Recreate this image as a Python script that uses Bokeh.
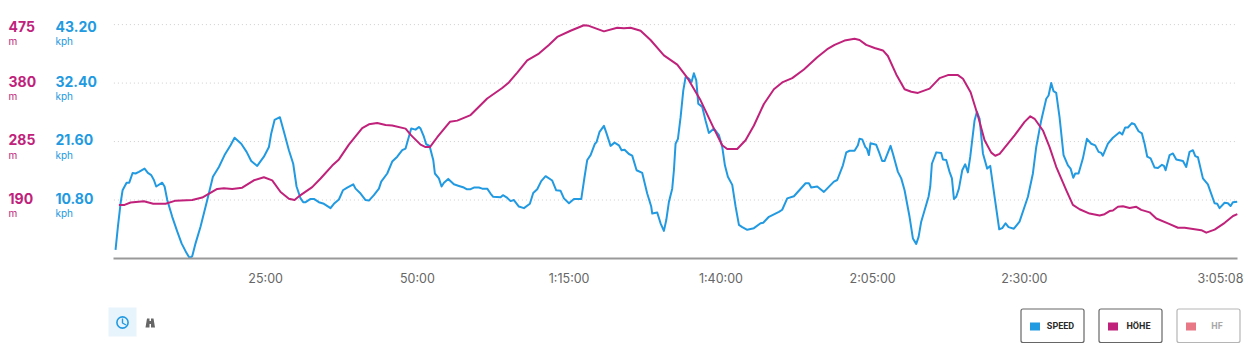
from bokeh.plotting import figure
from bokeh.models import Range1d, FixedTicker
from bokeh.layouts import column
from bokeh.core.properties import value
from bokeh.embed import file_html
from bokeh.resources import INLINE

BLUE = "#229ae1"
MAG = "#c0217a"
PINK = "#e97886"

speed_min = [0.27,0.66,1.1,1.43,2.09,2.53,3.08,3.57,4.12,5.05,5.6,6.15,6.59,6.97,7.96,8.35,8.79,9.61,10.43,11.15,11.97,12.47,12.9,13.45,14.28,15.38,16.31,17.3,18.23,19.22,19.88,20.98,21.86,22.62,23.61,24.71,25.54,25.92,26.47,27.35,28.01,28.83,29.54,30.09,30.75,31.19,31.58,32.4,32.95,33.77,34.6,35.69,36.24,37.07,37.73,38.44,39.43,39.81,40.64,41.46,42.01,42.83,43.66,44.04,45.03,45.85,46.68,47.5,48.05,48.98,49.7,50.25,50.52,51.07,51.45,52.0,52.61,52.88,53.54,53.98,54.37,55.08,56.01,56.84,57.66,58.1,58.76,59.31,60.13,60.68,61.5,62.05,62.49,63.7,64.09,64.69,65.35,65.9,66.72,67.55,68.53,69.08,69.74,70.4,71.12,72.21,72.87,73.59,74.14,74.97,75.79,77.0,77.54,77.98,78.53,79.25,79.52,80.01,80.73,81.16,81.82,82.48,83.2,83.64,84.13,84.85,85.39,86.11,87.04,87.86,88.52,88.69,89.51,90.06,90.61,91.0,91.44,91.98,92.26,92.53,92.92,93.36,93.8,94.18,94.73,95.17,95.55,95.94,96.27,96.93,97.47,98.02,98.85,99.67,100.22,100.66,101.15,101.87,102.42,102.97,103.52,104.34,105.44,106.54,106.97,107.91,109.56,110.1,110.93,112.03,113.95,114.5,114.88,115.87,116.97,118.62,119.17,120.1,120.65,121.2,122.02,122.57,122.84,123.28,123.78,124.05,124.38,124.65,125.59,126.13,126.57,126.96,127.95,128.33,129.16,129.71,130.26,131.08,131.63,132.18,132.57,133.0,134.21,134.49,134.76,135.48,136.3,136.58,137.12,137.67,138.06,138.39,138.77,139.21,139.76,140.25,140.69,141.08,141.79,142.18,142.62,143.17,143.87,144.37,145.09,145.85,146.35,146.9,147.39,148.27,149.2,150.58,151.4,151.95,152.77,153.6,153.98,154.42,154.8,155.24,155.79,156.45,157.17,157.61,158.05,158.37,158.92,159.64,160.3,161.01,161.67,162.22,162.66,162.93,163.76,164.58,165.68,166.12,166.61,167.05,167.71,168.15,168.81,169.36,169.8,170.24,170.79,171.45,172.0,172.66,172.99,173.26,173.92,174.47,175.02,176.12,176.66,177.21,177.76,178.15,178.59,179.41,180.23,181.33,181.77,182.15,182.98,183.53,183.97,184.35,185.06]
speed_kph = [1.6,5.9,10.2,12.6,14.0,14.0,15.8,15.7,16.0,16.6,15.8,15.4,14.5,13.3,14.0,13.3,10.8,7.7,5.0,2.8,1.0,0.1,0.4,2.8,5.9,10.8,15.1,16.9,19.1,20.9,22.3,21.2,19.7,18.0,17.1,18.8,20.6,23.1,25.6,26.1,23.4,20.0,17.5,13.3,11.1,10.4,10.4,11.0,11.0,10.4,10.1,9.3,10.1,10.9,12.6,13.1,13.7,12.9,12.0,10.8,10.7,11.7,12.9,14.2,15.7,17.9,18.8,20.0,20.3,24.0,23.8,24.3,24.0,22.5,21.1,20.8,18.2,15.7,14.8,13.3,14.0,14.7,13.7,13.4,13.1,12.8,12.8,13.1,13.1,12.9,12.9,12.0,11.4,11.3,11.7,11.3,10.6,10.8,9.6,9.3,10.1,12.1,12.8,14.3,15.2,14.4,12.6,12.5,11.1,10.2,11.0,11.0,15.1,18.2,19.1,21.2,21.5,23.4,24.5,23.1,20.8,21.4,20.9,20.0,20.1,19.3,19.0,16.3,15.8,12.0,9.6,8.3,8.5,6.5,5.1,7.1,10.5,12.9,16.3,21.2,22.1,26.1,31.0,33.5,33.2,32.6,34.2,32.9,28.6,28.0,25.5,23.2,24.0,22.8,20.6,17.2,15.1,13.6,9.6,6.2,5.8,5.3,5.6,6.5,6.6,7.7,8.6,9.0,11.1,11.5,13.9,13.9,13.1,13.3,12.3,14.2,14.5,17.2,19.6,19.9,19.9,20.9,22.1,22.0,20.6,20.3,19.1,21.3,21.0,19.4,18.0,18.0,20.8,19.4,16.0,14.8,12.6,7.7,3.7,2.7,4.0,6.8,11.4,13.3,17.5,19.6,19.5,18.3,18.2,16.0,14.8,11.0,11.4,12.9,16.3,17.4,15.9,18.8,25.5,27.1,25.8,19.4,16.6,17.1,11.4,5.4,5.6,6.5,5.8,5.5,6.8,11.4,15.7,20.6,25.5,29.5,30.1,32.4,30.9,30.6,26.1,19.1,17.2,16.6,14.9,15.7,15.7,18.5,22.1,21.2,20.9,19.7,19.5,19.0,21.2,22.3,23.3,22.9,24.2,24.2,25.0,24.8,23.5,23.1,21.2,18.8,18.5,16.8,16.7,17.3,17.1,16.3,19.1,19.4,18.3,18.0,16.9,19.7,20.0,18.9,18.7,14.8,13.7,10.2,10.1,9.3,10.3,10.2,9.7,10.4,10.5]

elev_min = [0.82,1.76,2.75,4.94,6.48,8.51,10.16,12.9,14.55,17.02,18.12,19.49,21.14,23.06,24.71,26.08,27.46,28.83,29.76,30.75,32.67,34.05,35.97,37.07,38.71,39.54,40.91,42.01,43.38,44.76,45.85,48.05,48.98,50.52,51.35,52.06,53.27,55.35,56.56,58.76,61.5,63.97,65.07,66.45,68.09,70.02,71.66,73.04,75.23,77.43,78.25,80.73,82.92,84.02,85.12,86.77,88.41,90.61,92.81,94.45,96.65,98.85,100.22,101.04,102.69,104.06,105.44,107.08,108.73,110.1,111.75,113.67,115.87,117.52,118.73,120.37,122.02,122.84,123.94,125.32,126.69,127.51,128.89,130.26,131.36,132.45,134.38,136.03,137.4,139.05,139.88,141.14,142.34,143.44,144.54,145.2,145.92,148.38,150.03,150.97,151.68,153.05,154.15,155.24,156.89,157.99,159.09,160.74,162.39,163.21,164.03,164.58,165.41,166.23,167.33,168.43,169.25,170.63,171.73,173.65,175.3,176.4,179.14,179.97,181.34,183.0,184.37,185.08]
elev_m = [182,182,186,188,184,184,189,190,194,208,209,208,210,222,227,222,203,192,190,198,211,225,246,256,280,290,307,313,315,312,311,306,295,280,276,276,292,317,319,328,355,372,381,397,417,428,442,455,465,474,473,464,470,469,470,465,450,425,410,389,352,306,279,273,273,287,311,346,370,381,388,402,422,435,442,449,452,450,442,437,433,424,394,370,366,364,371,388,393,393,387,365,327,287,267,262,265,295,317,326,322,303,276,244,206,182,175,168,165,167,172,173,179,180,177,179,174,170,160,152,145,145,141,137,142,153,164,167]

speed_ticks = [43.2, 32.4, 21.6, 10.8]
speed_labels = ["43.20", "32.40", "21.60", "10.80"]
elev_ticks = [475, 380, 285, 190]
elev_labels = ["475", "380", "285", "190"]
time_ticks = [25, 50, 75, 100, 125, 150, 182.3]
time_labels = ["25:00", "50:00", "1:15:00", "1:40:00", "2:05:00", "2:30:00", "3:05:08"]
time_end = 185.13
legend_names = ["SPEED", "HÖHE", "HF"]

FIG_W = 1246
X0_PX = 113.4
PX_PER_MIN = 6.07
KPH_TOP = 47.65
ELEV_PER_KPH = 95 / 10.8

p = figure(width=FIG_W, height=288, output_backend="svg", toolbar_location=None,
           x_range=Range1d(-X0_PX / PX_PER_MIN, (FIG_W - X0_PX) / PX_PER_MIN), y_range=Range1d(0, KPH_TOP),
           min_border_left=0, min_border_right=0, min_border_top=0, min_border_bottom=29,
           outline_line_color=None, background_fill_color="white")
p.extra_y_ranges = {"elev": Range1d(95, 95 + KPH_TOP * ELEV_PER_KPH)}
p.yaxis.visible = False
p.xgrid.visible = False
p.ygrid.visible = False
p.segment(x0=[0] * 4, x1=[time_end] * 4, y0=speed_ticks, y1=speed_ticks,
          line_color="#cfcfcf", line_dash="1 3", line_width=1)

ax = p.xaxis[0]
ax.ticker = FixedTicker(ticks=time_ticks)
ax.major_label_overrides = dict(zip(time_ticks, time_labels))
ax.bounds = (0, time_end)
ax.axis_line_color = "#999999"
ax.axis_line_width = 2
ax.major_tick_line_color = None
ax.minor_tick_line_color = None
ax.major_label_standoff = 6
ax.major_label_text_font = "Inter"
ax.major_label_text_font_size = "12.5px"
ax.major_label_text_color = "#666666"

p.line(speed_min, speed_kph, line_color=BLUE, line_width=2, line_join="round")
p.line(elev_min, elev_m, y_range_name="elev", line_color=MAG, line_width=2, line_join="round")

dy = [1.5, -2, -2, -2]
bold = dict(text_align="left", text_baseline="middle", text_font=value("Inter"),
            text_font_style="bold", text_font_size="14px")
unit = dict(text_align="left", text_baseline="middle", text_font=value("Inter"), text_font_size="10px")
p.text(x=[0] * 4, y=elev_ticks, text=elev_labels, y_range_name="elev", x_offset=-105.4, y_offset=dy,
       text_color=MAG, **bold)
p.text(x=[0] * 4, y=speed_ticks, text=speed_labels, x_offset=-58.4, y_offset=dy, text_color=BLUE, **bold)
p.text(x=[0] * 4, y=elev_ticks, text=["m"] * 4, y_range_name="elev", x_offset=-105.4,
       y_offset=[d + 15 for d in dy], text_color=MAG, **unit)
p.text(x=[0] * 4, y=speed_ticks, text=["kph"] * 4, x_offset=-58.4,
       y_offset=[d + 15 for d in dy], text_color=BLUE, **unit)

# footer controls, in page pixel coordinates
f = figure(width=FIG_W, height=60, output_backend="svg", toolbar_location=None,
           x_range=Range1d(0, FIG_W), y_range=Range1d(348, 288),
           min_border=0, outline_line_color=None, x_axis_type=None, y_axis_type=None)
f.xgrid.visible = False
f.ygrid.visible = False

f.quad(left=[108], right=[136], top=[307], bottom=[336], fill_color="#e8f4fc", line_color=None)
f.circle(x=[122], y=[322], radius=5.6, fill_color=None, line_color=BLUE, line_width=1.6)
f.multi_line(xs=[[122, 122, 125.5]], ys=[[318, 322.5, 324.5]], line_color=BLUE, line_width=1.4)
f.patches(xs=[[145, 146.5, 149, 149, 145], [150.5, 150.5, 153, 154.5, 154.5]],
          ys=[[327, 318, 318, 327, 327], [327, 318, 318, 327, 327]],
          fill_color="#666666", line_color=None)
f.quad(left=[148], right=[151.5], top=[320.5], bottom=[323.5], fill_color="#666666", line_color=None)

box_l = [1020.5, 1098.5, 1176.5]
edge = ["#666666", "#666666", "#b5b5b5"]
swatch = [BLUE, MAG, PINK]
tcol = ["#2a2a2a", "#2a2a2a", "#a8a8a8"]
text_x = [1060, 1138, 1216.5]
f.quad(left=box_l, right=[b + 63 for b in box_l], top=[308.5] * 3, bottom=[342] * 3,
       fill_color="white", line_color=edge, line_width=1.2, border_radius=2)
f.quad(left=[b + 9 for b in box_l], right=[b + 19 for b in box_l], top=[322] * 3, bottom=[330] * 3,
       fill_color=swatch, line_color=None)
f.text(x=text_x, y=[325.5] * 3, text=legend_names, text_color=tcol, text_align="center", text_baseline="middle",
       text_font=value("Roboto"), text_font_style="bold", text_font_size="9px")

page = column(p, f, spacing=0)
open("out.html", "w").write(file_html(page, INLINE))
